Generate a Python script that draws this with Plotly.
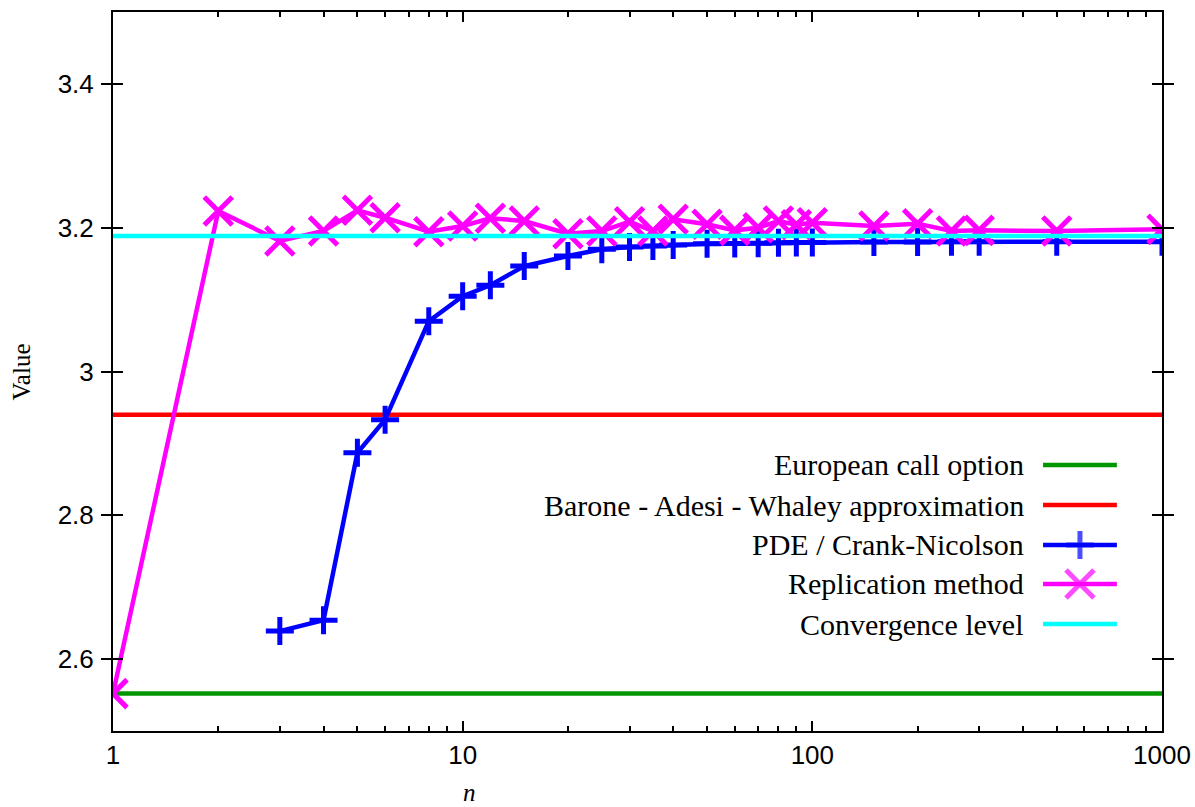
import plotly.graph_objects as go

# ---------------- data ----------------
n_rep = [1, 2, 3, 4, 5, 6, 8, 10, 12, 15, 20, 25, 30, 35, 40, 50, 60, 70, 80, 90, 100,
         150, 200, 250, 300, 500, 1000]
v_rep = [2.552, 3.2233, 3.1815, 3.1954, 3.2242, 3.2139, 3.1944, 3.2024, 3.2131, 3.2093,
         3.1916, 3.1954, 3.2084, 3.1954, 3.2117, 3.2047, 3.1963, 3.2000, 3.2093, 3.2040,
         3.2070, 3.2024, 3.2056, 3.1954, 3.1963, 3.1954, 3.1977]

n_pde = [3, 4, 5, 6, 8, 10, 12, 15, 20, 25, 30, 35, 40, 50, 60, 70, 80, 90, 100,
         150, 200, 250, 300, 500, 1000]
v_pde = [2.639, 2.654, 2.887, 2.933, 3.070, 3.1048, 3.120, 3.1466, 3.1606, 3.170, 3.173,
         3.1745, 3.176, 3.1777, 3.178, 3.1785, 3.179, 3.1793, 3.1795, 3.180, 3.1802,
         3.1803, 3.1804, 3.1805, 3.1806]

n_range = [1, 1000]
european = 2.552
baw = 2.940
convergence = 3.1885

x_tickvals = [1, 10, 100, 1000]
x_ticktext = ["1", "10", "100", "1000"]
x_minor_vals = [2, 3, 4, 5, 6, 7, 8, 9, 20, 30, 40, 50, 60, 70, 80, 90,
                200, 300, 400, 500, 600, 700, 800, 900]
y_tickvals = [2.6, 2.8, 3.0, 3.2, 3.4]
y_ticktext = ["2.6", "2.8", "3", "3.2", "3.4"]

legend_labels = ["European call option", "Barone - Adesi - Whaley approximation",
                 "PDE / Crank-Nicolson", "Replication method", "Convergence level"]

# ---------------- styles ----------------
GREEN = "#009600"
RED = "#ff0000"
BLUE = "#0000ff"
MAGENTA = "#ff00ff"
CYAN = "#00ffff"
LW = 4.5
MLW = 5
SERIF = "Liberation Serif, Times New Roman, serif"
SANS = "Liberation Sans, Arial, sans-serif"

fig = go.Figure()

fig.add_trace(go.Scatter(x=n_range, y=[european] * 2, mode="lines",
                         line=dict(color=GREEN, width=LW), showlegend=False))
fig.add_trace(go.Scatter(x=n_range, y=[baw] * 2, mode="lines",
                         line=dict(color=RED, width=LW), showlegend=False))
fig.add_trace(go.Scatter(x=n_pde, y=v_pde, mode="lines+markers",
                         line=dict(color=BLUE, width=LW),
                         marker=dict(symbol="cross-thin", size=20, color=BLUE,
                                     line=dict(color=BLUE, width=MLW)),
                         showlegend=False))
fig.add_trace(go.Scatter(x=n_rep, y=v_rep, mode="lines+markers",
                         line=dict(color=MAGENTA, width=LW),
                         marker=dict(symbol="x-thin", size=28, color=MAGENTA,
                                     line=dict(color=MAGENTA, width=MLW)),
                         showlegend=False))
fig.add_trace(go.Scatter(x=n_range, y=[convergence] * 2, mode="lines",
                         line=dict(color=CYAN, width=LW), showlegend=False))

# ---------------- custom legend (text left of sample, like gnuplot) ----------------
leg_colors = [GREEN, RED, BLUE, MAGENTA, CYAN]
leg_symbols = [None, None, "cross-thin", "x-thin", None]
leg_sizes = [0, 0, 20, 28, 0]
row_y = [0.370, 0.3143, 0.2587, 0.2045, 0.1488]
x0, x1, xt = 0.8866, 0.957, 0.8704

for lab, col, sym, sz, yy in zip(legend_labels, leg_colors, leg_symbols, leg_sizes, row_y):
    if sym is None:
        fig.add_trace(go.Scatter(x=[x0, x1], y=[yy, yy], mode="lines", xaxis="x2", yaxis="y2",
                                 line=dict(color=col, width=LW), showlegend=False,
                                 hoverinfo="skip"))
    else:
        fig.add_trace(go.Scatter(x=[x0, (x0 + x1) / 2, x1], y=[yy, yy, yy],
                                 mode="lines+markers", xaxis="x2", yaxis="y2",
                                 line=dict(color=col, width=LW),
                                 marker=dict(symbol=sym, size=[0, sz, 0], color=col,
                                             line=dict(color=col, width=MLW)),
                                 showlegend=False, hoverinfo="skip"))
    fig.add_annotation(x=xt, y=yy, xref="paper", yref="paper", text=lab,
                       showarrow=False, xanchor="right", yanchor="middle",
                       font=dict(family=SERIF, size=30, color="black"))

# axis titles
fig.add_annotation(x=-0.0868, y=0.5, xref="paper", yref="paper", text="Value",
                   textangle=-90, showarrow=False, xanchor="center", yanchor="middle",
                   font=dict(family=SERIF, size=25, color="black"))
fig.add_annotation(x=0.3403, y=-0.085, xref="paper", yref="paper", text="<i>n</i>",
                   showarrow=False, xanchor="center", yanchor="middle",
                   font=dict(family=SERIF, size=25, color="black"))

fig.update_layout(
    width=1195, height=807,
    margin=dict(l=113, r=33, t=12, b=76, autoexpand=False),
    paper_bgcolor="white", plot_bgcolor="white",
    showlegend=False,
    xaxis=dict(type="log", range=[0, 3], tickvals=x_tickvals, ticktext=x_ticktext,
               ticks="inside", ticklen=10, tickwidth=2, tickcolor="black",
               showline=True, linecolor="black", linewidth=2, mirror="allticks",
               showgrid=False, zeroline=False, automargin=False,
               tickfont=dict(family=SANS, size=26, color="black"),
               minor=dict(ticks="inside", ticklen=5, tickwidth=2, tickcolor="black",
                          dtick="D1", showgrid=False)),
    xaxis3=dict(type="log", range=[0, 3], overlaying="x", side="top",
                tickvals=x_minor_vals, ticks="inside", ticklen=5, tickwidth=2,
                tickcolor="black", showticklabels=False, showgrid=False,
                zeroline=False, showline=False, automargin=False),
    yaxis=dict(range=[2.5, 3.5], tickvals=y_tickvals, ticktext=y_ticktext,
               ticks="inside", ticklen=10, tickwidth=2, tickcolor="black",
               showline=True, linecolor="black", linewidth=2, mirror="allticks",
               showgrid=False, zeroline=False, ticklabelstandoff=12, automargin=False,
               tickfont=dict(family=SANS, size=26, color="black")),
    xaxis2=dict(overlaying="x", range=[0, 1], visible=False),
    yaxis2=dict(overlaying="y", range=[0, 1], visible=False),
)

# invisible trace to activate the top mirror axis for minor ticks
fig.add_trace(go.Scatter(x=n_range, y=[european] * 2, xaxis="x3", yaxis="y",
                         mode="lines", line=dict(width=0), opacity=0,
                         showlegend=False, hoverinfo="skip"))

fig.write_html("out.html")
